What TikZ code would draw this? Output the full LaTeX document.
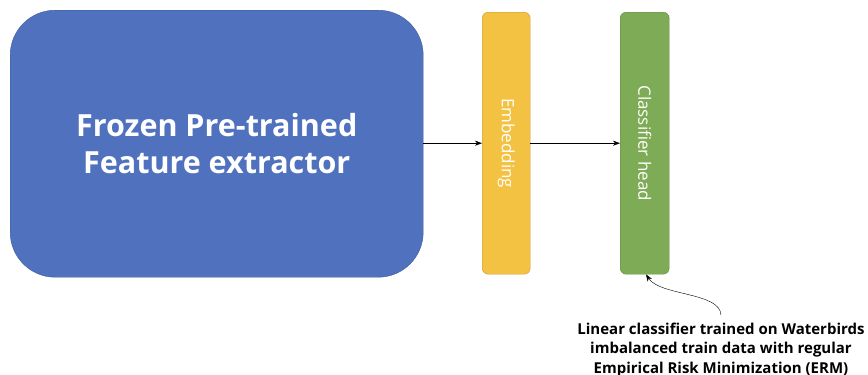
\documentclass[tikz,border=0pt]{standalone}
\usepackage{fontspec}
\setmainfont{Open Sans}
\usepackage{xcolor}
\usetikzlibrary{arrows.meta}

\definecolor{extblue}{HTML}{4F71BE}
\definecolor{embyellow}{HTML}{F4C242}
\definecolor{headgreen}{HTML}{7EAB55}

\begin{document}
\begin{tikzpicture}[x=1pt,y=-1pt,
		block/.style={rectangle,anchor=north west,inner sep=0pt,text=white},
		link/.style={-{Stealth[length=7pt,width=5pt]},thin}]
		\useasboundingbox (0,0) rectangle (868,375);
		\def\bh{262}
		% blocks
		\node [block,fill=extblue,draw=extblue!80!black,rounded corners=45pt,
			minimum width=413pt,minimum height=267pt,align=center,
			font=\fontsize{30.5}{37}\selectfont\bfseries] (extractor) at (10,10)
			{Frozen Pre-trained\\Feature extractor};
		\node [block,fill=embyellow,draw=embyellow!80!black,rounded corners=6pt,
			minimum width=48pt,minimum height=\bh pt] (embed) at (482,12) {};
		\node [block,fill=headgreen,draw=headgreen!80!black,rounded corners=6pt,
			minimum width=49pt,minimum height=\bh pt] (head) at (620,12) {};
		\node [text=white,rotate=-90,font=\fontsize{17}{18}\selectfont] at (embed.center) {Embedding};
		\node [text=white,rotate=-90,font=\fontsize{17}{18}\selectfont] at (head.center) {Classifier head};
		% connectors
		\draw [link] (embed.west -| extractor.east) -- (embed.west);
		\draw [link] (embed.east) -- (head.west);
		% note
		\node [align=center,font=\fontsize{15}{19.5}\selectfont\bfseries,anchor=north] (note) at (721,319)
			{Linear classifier trained on Waterbirds\\imbalanced train data with regular\\Empirical Risk Minimization (ERM)};
		\draw [link] ([yshift=4pt]note.north) .. controls (720,292) and (660,296) .. (head.south -| 646,0);
	\end{tikzpicture}
\end{document}
